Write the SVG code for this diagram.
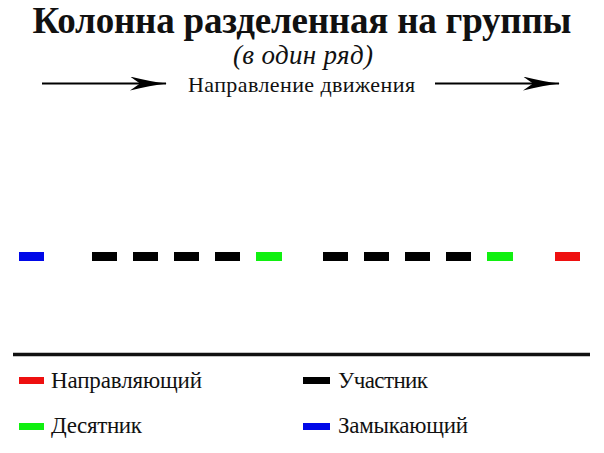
<svg xmlns="http://www.w3.org/2000/svg" width="604" height="453" viewBox="0 0 604 453">
<style>
.t{font-family:"Liberation Serif","Times New Roman",serif;fill:#111}
.title{font-size:37px;font-weight:bold}
.sub{font-size:27px;font-style:italic}
.dir{font-size:22px}
.leg{font-size:23px}
.blk{fill:#000}
.grn{fill:#10f010}
.red{fill:#ee1010}
.blu{fill:#0008e8}
.arrow{stroke:#000;stroke-width:2.2;fill:none}
</style>
<defs>
<marker id="ah" markerUnits="userSpaceOnUse" viewBox="0 0 37 14" refX="36" refY="7" markerWidth="37" markerHeight="14" orient="auto">
<path d="M0,0 Q20,5 37,7 Q20,9 0,14 L10,7 Z" fill="#000"/>
</marker>
<filter id="sh" x="-5%" y="-200%" width="110%" height="500%">
<feGaussianBlur stdDeviation="1.5"/>
</filter>
</defs>
<rect width="604" height="453" fill="#fff"/>
<text class="t title" x="302" y="33" text-anchor="middle" textLength="539" lengthAdjust="spacing">Колонна разделенная на группы</text>
<text class="t sub" x="303" y="64" text-anchor="middle" textLength="140" lengthAdjust="spacing">(в один ряд)</text>
<text class="t dir" x="188" y="92" textLength="227" lengthAdjust="spacing">Направление движения</text>
<g id="connectors">
<path class="arrow" d="M42,83.5 H166" marker-end="url(#ah)"/>
<path class="arrow" d="M435,83.5 H559" marker-end="url(#ah)"/>
</g>
<g id="n-zam"><rect class="blu" x="19" y="252" width="25" height="9"/></g>
<g id="n-u1"><rect class="blk" x="92" y="252" width="25" height="9"/></g>
<g id="n-u2"><rect class="blk" x="133" y="252" width="25" height="9"/></g>
<g id="n-u3"><rect class="blk" x="174" y="252" width="25" height="9"/></g>
<g id="n-u4"><rect class="blk" x="215" y="252" width="25" height="9"/></g>
<g id="n-d1"><rect class="grn" x="256" y="252" width="26" height="9"/></g>
<g id="n-u5"><rect class="blk" x="323" y="252" width="25" height="9"/></g>
<g id="n-u6"><rect class="blk" x="364" y="252" width="25" height="9"/></g>
<g id="n-u7"><rect class="blk" x="405" y="252" width="25" height="9"/></g>
<g id="n-u8"><rect class="blk" x="446" y="252" width="25" height="9"/></g>
<g id="n-d2"><rect class="grn" x="487" y="252" width="26" height="9"/></g>
<g id="n-nap"><rect class="red" x="555" y="252" width="25" height="9"/></g>
<g id="separator">
<line x1="14" y1="357.5" x2="592" y2="357.5" stroke="#777" stroke-width="3" filter="url(#sh)"/>
<line x1="13" y1="354.5" x2="590" y2="354.5" stroke="#111" stroke-width="3.5"/>
</g>
<g id="legend">
<rect class="red" x="19" y="377" width="25" height="7"/>
<text class="t leg" x="51" y="388" textLength="151" lengthAdjust="spacing">Направляющий</text>
<rect class="grn" x="19" y="423" width="25" height="7"/>
<text class="t leg" x="51" y="433" textLength="91" lengthAdjust="spacing">Десятник</text>
<rect class="blk" x="303" y="377" width="27" height="7"/>
<text class="t leg" x="338" y="388" textLength="90" lengthAdjust="spacing">Участник</text>
<rect class="blu" x="303" y="423" width="27" height="7"/>
<text class="t leg" x="338" y="433" textLength="130" lengthAdjust="spacing">Замыкающий</text>
</g>
</svg>
